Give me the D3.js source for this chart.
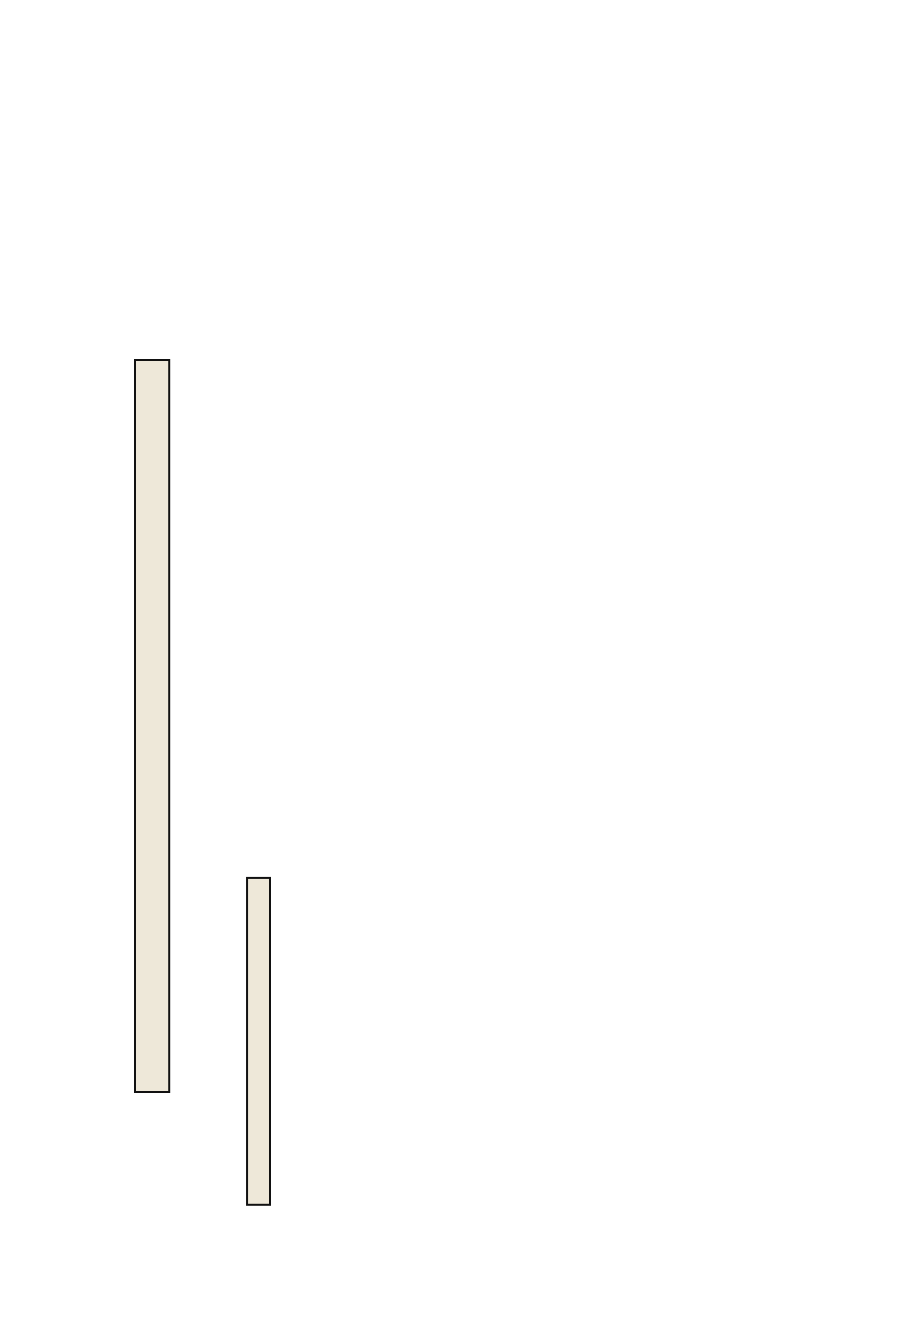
<!DOCTYPE html>
<html lang="en">

<head>
  <meta charset="UTF-8">
  <title>Floating bars</title>
  <script src="https://d3js.org/d3.v7.min.js"></script>
  <style>
    body { margin: 0; background: #fff; }
    .bar {
      fill: rgb(238, 232, 217);
      stroke: rgb(17, 17, 17);
      stroke-width: 2;
    }
  </style>
</head>

<body>
  <svg width="900" height="1331"></svg>

  <script>
    // bar extents (horizontal start/end, vertical low/high)
    const categories = ['A', 'B'];
    const xStart = [15, 27.45];
    const xEnd = [18.8, 30];
    const lowValues = [17.5, 5.75];
    const highValues = [93.75, 39.8];

    const data = categories.map((c, i) => ({
      name: c, x0: xStart[i], x1: xEnd[i], lo: lowValues[i], hi: highValues[i]
    }));

    const svg = d3.select('svg');

    const x = d3.scaleLinear()
      .domain([0, 100])
      .range([0, 900]);

    const y = d3.scaleLinear()
      .domain([0, 100])
      .range([1260, 300]);

    //bars
    svg.selectAll('.bar')
      .data(data)
      .enter().append('rect')
      .attr('class', 'bar')
      .attr('x', d => x(d.x0))
      .attr('width', d => x(d.x1) - x(d.x0))
      .attr('y', d => y(d.hi))
      .attr('height', d => y(d.lo) - y(d.hi));
  </script>
</body>

</html>
